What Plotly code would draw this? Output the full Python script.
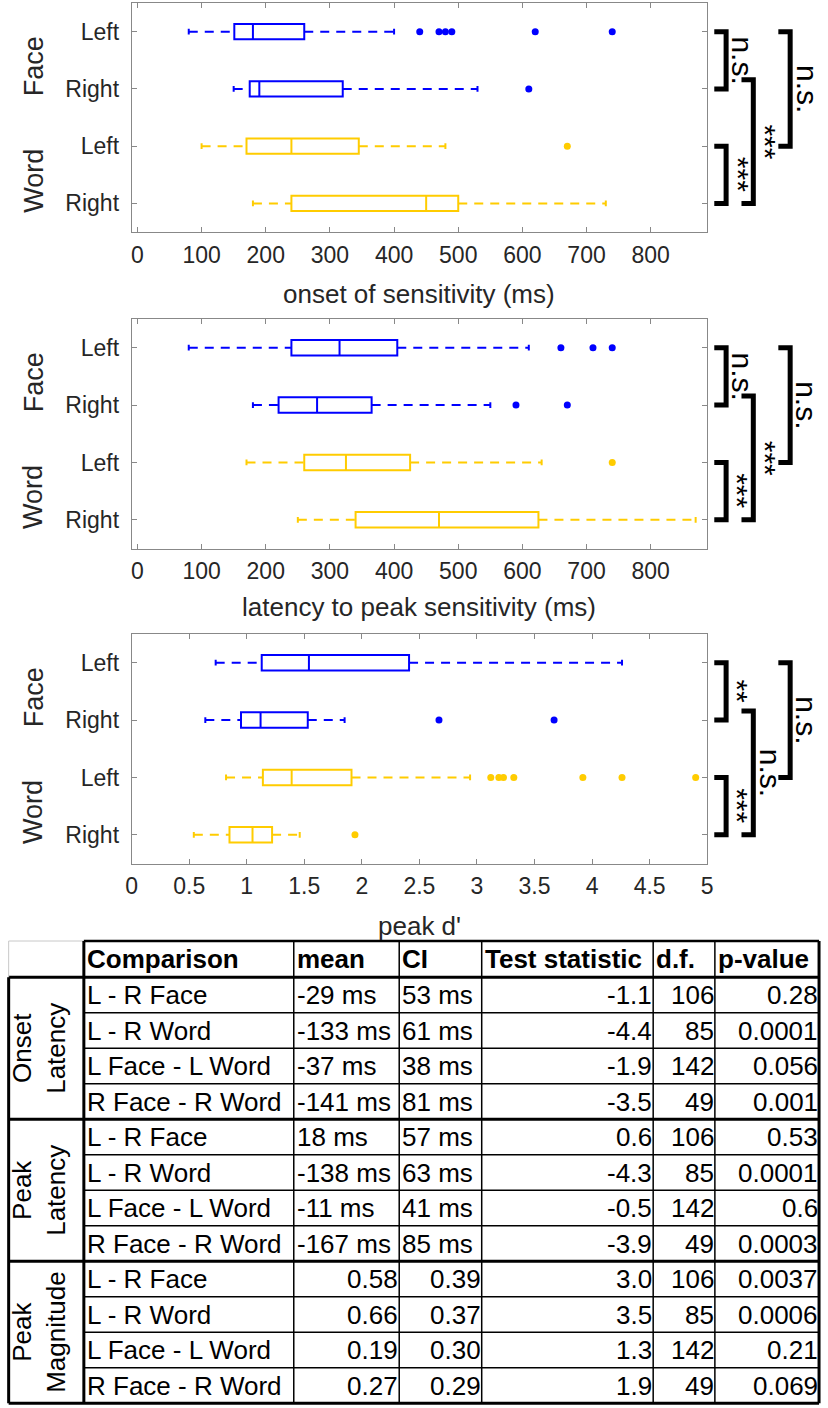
import plotly.graph_objects as go

W, H = 828, 1408
FONT = "Liberation Sans, Arial, Helvetica, sans-serif"

# ---------------- data ----------------
row_labels = ["Left", "Right", "Left", "Right"]
row_pos = [1, 2, 3, 4]
stim_groups = ["Face", "Word"]
row_colors = ["#0000FF", "#0000FF", "#FFCC00", "#FFCC00"]

# onset of sensitivity (ms): Face-L, Face-R, Word-L, Word-R
onset_lower = [80, 150, 100, 180]
onset_q1 = [151, 175, 170, 240]
onset_median = [180, 190, 240, 450]
onset_q3 = [260, 320, 345, 500]
onset_upper = [400, 530, 480, 730]
onset_outliers = [[440, 470, 480, 490, 620, 740], [610], [670], []]

# latency to peak sensitivity (ms)
peaklat_lower = [80, 180, 170, 250]
peaklat_q1 = [240, 220, 260, 340]
peaklat_median = [315, 280, 325, 470]
peaklat_q3 = [405, 365, 425, 625]
peaklat_upper = [610, 550, 630, 870]
peaklat_outliers = [[660, 710, 740], [590, 670], [740], []]

# peak d'
peakd_lower = [0.73, 0.64, 0.82, 0.54]
peakd_q1 = [1.13, 0.95, 1.14, 0.85]
peakd_median = [1.54, 1.12, 1.39, 1.05]
peakd_q3 = [2.41, 1.53, 1.91, 1.22]
peakd_upper = [4.26, 1.85, 2.94, 1.46]
peakd_outliers = [[], [2.67, 3.67], [3.12, 3.19, 3.23, 3.32, 3.92, 4.26, 4.90], [1.94]]

ms_ticks = [0, 100, 200, 300, 400, 500, 600, 700, 800]
d_ticks = [0, 0.5, 1, 1.5, 2, 2.5, 3, 3.5, 4, 4.5, 5]

# significance comparisons (row pair) and labels per panel
sig_pairs = [(1, 2), (3, 4), (2, 4), (1, 3)]
sig_onset = ["n.s.", "***", "***", "n.s."]
sig_peaklat = ["n.s.", "***", "***", "n.s."]
sig_peakd = ["**", "***", "n.s.", "n.s."]

# table
table_header = ["Comparison", "mean", "CI", "Test statistic", "d.f.", "p-value"]
table_groups = ["Onset<br>Latency", "Peak<br>Latency", "Peak<br>Magnitude"]
comparisons = ["L - R Face", "L - R Word", "L Face - L Word", "R Face - R Word"] * 3
mean_vals = ["-29 ms", "-133 ms", "-37 ms", "-141 ms", "18 ms", "-138 ms", "-11 ms", "-167 ms",
             "0.58", "0.66", "0.19", "0.27"]
ci_vals = ["53 ms", "61 ms", "38 ms", "81 ms", "57 ms", "63 ms", "41 ms", "85 ms",
           "0.39", "0.37", "0.30", "0.29"]
test_stats = ["-1.1", "-4.4", "-1.9", "-3.5", "0.6", "-4.3", "-0.5", "-3.9", "3.0", "3.5", "1.3", "1.9"]
dfs = ["106", "85", "142", "49"] * 3
p_values = ["0.28", "0.0001", "0.056", "0.001", "0.53", "0.0001", "0.6", "0.0003",
            "0.0037", "0.0006", "0.21", "0.069"]

# ---------------- layout helpers ----------------
def px(x):
    return x / W

def py(y):
    return 1 - y / H

X_LEFT, X_RIGHT = 127.5, 711.5
panels = [
    dict(lower=onset_lower, q1=onset_q1, med=onset_median, q3=onset_q3, upper=onset_upper,
         out=onset_outliers, top=3, bot=232, xr=[-9, 888], ticks=ms_ticks,
         title="onset of sensitivity (ms)", title_y=294, sig=sig_onset),
    dict(lower=peaklat_lower, q1=peaklat_q1, med=peaklat_median, q3=peaklat_q3, upper=peaklat_upper,
         out=peaklat_outliers, top=319, bot=548.5, xr=[-9, 888], ticks=ms_ticks,
         title="latency to peak sensitivity (ms)", title_y=607, sig=sig_peaklat),
    dict(lower=peakd_lower, q1=peakd_q1, med=peakd_median, q3=peakd_q3, upper=peakd_upper,
         out=peakd_outliers, top=634, bot=863.5, xr=[0, 5], ticks=d_ticks,
         title="peak d'", title_y=926, sig=sig_peakd),
]

fig = go.Figure()
annotations = []
shapes = []
layout_axes = {}

BOX_W = 0.27
CAP = 0.05
for k, P in enumerate(panels):
    n = "" if k == 0 else str(k + 1)
    xa, ya = "x" + n, "y" + n
    for i in range(4):
        c = row_colors[i]
        p = row_pos[i]
        fig.add_trace(go.Box(
            y=[p], q1=[P["q1"][i]], median=[P["med"][i]], q3=[P["q3"][i]],
            lowerfence=[P["q1"][i]], upperfence=[P["q3"][i]],
            orientation="h", width=BOX_W, boxpoints=False,
            line=dict(color=c, width=2), fillcolor="rgba(0,0,0,0)",
            xaxis=xa, yaxis=ya, hoverinfo="skip", showlegend=False))
        fig.add_trace(go.Scatter(
            x=[P["lower"][i], P["q1"][i], None, P["q3"][i], P["upper"][i]],
            y=[p, p, None, p, p], mode="lines",
            line=dict(color=c, width=2, dash="9px,7px"),
            xaxis=xa, yaxis=ya, hoverinfo="skip", showlegend=False))
        fig.add_trace(go.Scatter(
            x=[P["lower"][i], P["lower"][i], None, P["upper"][i], P["upper"][i]],
            y=[p - CAP, p + CAP, None, p - CAP, p + CAP], mode="lines",
            line=dict(color=c, width=2),
            xaxis=xa, yaxis=ya, hoverinfo="skip", showlegend=False))
        if P["out"][i]:
            fig.add_trace(go.Scatter(
                x=P["out"][i], y=[p] * len(P["out"][i]), mode="markers",
                marker=dict(color=c, size=7),
                xaxis=xa, yaxis=ya, hoverinfo="skip", showlegend=False))

    ydom = [py(P["bot"]), py(P["top"])]
    layout_axes["xaxis" + n] = dict(
        domain=[px(X_LEFT), px(X_RIGHT)], range=P["xr"], anchor=ya,
        tickvals=P["ticks"], ticks="inside", ticklen=5, tickcolor="#888888",
        mirror="ticks", showline=True, linecolor="#888888", linewidth=1,
        showgrid=False, zeroline=False, ticklabelstandoff=2,
        tickfont=dict(family=FONT, size=23, color="#262626"))
    layout_axes["yaxis" + n] = dict(
        domain=ydom, range=[4.5, 0.5], anchor=xa,
        tickvals=row_pos, ticktext=row_labels, ticks="inside", ticklen=5, tickcolor="#888888",
        mirror="ticks", showline=True, linecolor="#888888", linewidth=1,
        showgrid=False, zeroline=False, ticklabelstandoff=7,
        tickfont=dict(family=FONT, size=23, color="#262626"))

    # axis title
    annotations.append(dict(text=P["title"], xref="paper", yref="paper",
                            x=px((X_LEFT + X_RIGHT) / 2), y=py(P["title_y"]),
                            xanchor="center", yanchor="middle", showarrow=False,
                            font=dict(family=FONT, size=26, color="#262626")))

    unit = (P["bot"] - P["top"]) / 4.0

    def ypix(r, P=P, unit=unit):
        return P["top"] + (r - 0.5) * unit

    # stimulus group labels
    for g, name in enumerate(stim_groups):
        yc = ypix(2 * g + 1.5 + 0.11)
        annotations.append(dict(text=name, xref="paper", yref="paper", x=px(28), y=py(yc),
                                xanchor="center", yanchor="middle", textangle=-90, showarrow=False,
                                font=dict(family=FONT, size=27, color="#262626")))

    # significance brackets
    bar_x = [730.7, 758.3, 795.7]
    levels = [0, 0, 1, 2]
    for j, (ra, rb) in enumerate(sig_pairs):
        lv = levels[j]
        yt = ypix(ra - (0.16 if lv == 1 else 0))
        yb = ypix(rb)
        bx = bar_x[lv]
        ax0 = bx - 12
        shapes.append(dict(type="path", xref="paper", yref="paper",
                           path=f"M {px(ax0)} {py(yt)} L {px(bx)} {py(yt)} L {px(bx)} {py(yb)} L {px(ax0)} {py(yb)}",
                           line=dict(color="black", width=5)))
        lab = P["sig"][j]
        shift = 12 if "*" in lab else 17
        annotations.append(dict(text=lab, xref="paper", yref="paper",
                                x=px(bx + shift), y=py((yt + yb) / 2),
                                xanchor="center", yanchor="middle", textangle=90, showarrow=False,
                                font=dict(family=FONT, size=30, color="black")))

# ---------------- table ----------------
col_edges = [2.7, 79, 292, 399, 482.7, 656.7, 719.3, 825]
T_TOP, HDR_BOT, ROW_H = 941, 977.3, 35.5
n_rows = len(comparisons)
row_edges = [T_TOP, HDR_BOT] + [HDR_BOT + ROW_H * (r + 1) for r in range(n_rows)]
THICK, THIN = 3, 1.5
group_bounds = {HDR_BOT + ROW_H * 4 * (g + 1) for g in range(3)}

def hline(y, x0, x1, w, color="black"):
    shapes.append(dict(type="line", xref="paper", yref="paper", x0=px(x0), x1=px(x1),
                       y0=py(y), y1=py(y), line=dict(color=color, width=w)))

def vline(x, y0, y1, w, color="black"):
    shapes.append(dict(type="line", xref="paper", yref="paper", x0=px(x), x1=px(x),
                       y0=py(y0), y1=py(y1), line=dict(color=color, width=w)))

# horizontal lines
hline(T_TOP, col_edges[0], col_edges[1], 1, "#c8c8c8")
hline(T_TOP, col_edges[1], col_edges[-1], 2.5)
hline(HDR_BOT, col_edges[0], col_edges[-1], THICK)
for r in range(n_rows):
    y = row_edges[r + 2]
    if any(abs(y - gb) < 0.01 for gb in group_bounds):
        hline(y, col_edges[0], col_edges[-1], THICK)
    else:
        hline(y, col_edges[1], col_edges[-1], THIN)
# vertical lines
vline(col_edges[0], T_TOP, HDR_BOT, 1, "#c8c8c8")
vline(col_edges[0], HDR_BOT, row_edges[-1], THICK)
vline(col_edges[1], T_TOP, row_edges[-1], THICK)
for c in col_edges[2:-1]:
    vline(c, T_TOP, row_edges[-1], THIN)
vline(col_edges[-1], T_TOP, row_edges[-1], THICK)

TFONT = dict(family=FONT, size=26, color="black")
# header
for ci, h in enumerate(table_header):
    annotations.append(dict(text=f"<b>{h}</b>", xref="paper", yref="paper",
                            x=px(col_edges[ci + 1] + 1), y=py((T_TOP + HDR_BOT) / 2),
                            xanchor="left", yanchor="middle", showarrow=False, font=TFONT))
# body
columns = [comparisons, mean_vals, ci_vals, test_stats, dfs, p_values]
for r in range(n_rows):
    yc = (row_edges[r + 1] + row_edges[r + 2]) / 2
    for ci, col in enumerate(columns):
        val = col[r]
        left = ci == 0 or (ci in (1, 2) and val.endswith("ms"))
        if left:
            x, xa = col_edges[ci + 1] + 1, "left"
        else:
            x, xa = col_edges[ci + 2] + 1, "right"
        annotations.append(dict(text=val, xref="paper", yref="paper", x=px(x), y=py(yc),
                                xanchor=xa, yanchor="middle", showarrow=False, font=TFONT))
# group labels
for g, name in enumerate(table_groups):
    y0 = HDR_BOT + ROW_H * 4 * g
    y1 = y0 + ROW_H * 4
    annotations.append(dict(text=name, xref="paper", yref="paper",
                            x=px(34), y=py((y0 + y1) / 2),
                            xanchor="center", yanchor="middle", textangle=-90, showarrow=False,
                            font=TFONT))

fig.update_layout(
    width=W, height=H, margin=dict(l=0, r=0, t=0, b=0),
    paper_bgcolor="white", plot_bgcolor="white",
    boxmode="overlay", showlegend=False,
    annotations=annotations, shapes=shapes,
    font=dict(family=FONT),
    **layout_axes)

fig.write_html("out.html", config={"displayModeBar": False},
               post_script="document.body.style.margin='0px';document.body.style.overflow='hidden';")
